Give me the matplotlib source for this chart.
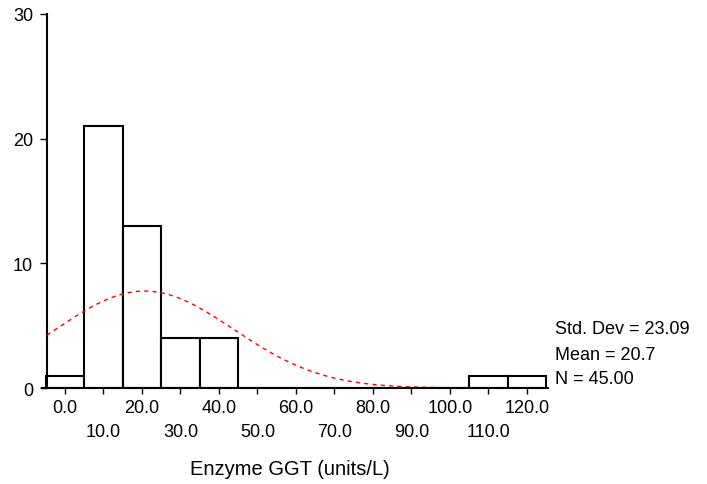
import numpy as np
import matplotlib
matplotlib.use('Agg')
from matplotlib import pyplot as plt

# histogram data
bin_centers = [0, 10, 20, 30, 40, 50, 60, 70, 80, 90, 100, 110, 120]
counts = [1, 21, 13, 4, 4, 0, 0, 0, 0, 0, 0, 1, 1]
tick_labels = ['0.0', '10.0', '20.0', '30.0', '40.0', '50.0', '60.0',
               '70.0', '80.0', '90.0', '100.0', '110.0', '120.0']
std_dev = 23.09
mean = 20.7
n = 45
bin_width = 10

plt.rcParams['font.family'] = ['Liberation Sans', 'DejaVu Sans']

fig = plt.figure(figsize=(7.07, 4.85), dpi=100)
ax = fig.add_axes([42/707, 1-389/485, (548-42)/707, (389-15)/485])

ax.bar(bin_centers, counts, width=bin_width, color='white',
       edgecolor='black', linewidth=1.5, zorder=2)

# normal curve
xs = np.linspace(-4.7, 125.5, 400)
ys = n * bin_width / (std_dev * np.sqrt(2*np.pi)) * np.exp(-0.5*((xs-mean)/std_dev)**2)
ax.plot(xs, ys, color='red', linestyle=(0, (3, 3)), linewidth=1, zorder=3)

ax.set_xlim(-5.97, 125.5)
ax.set_ylim(0, 30)
ax.spines['top'].set_visible(False)
ax.spines['right'].set_visible(False)
ax.spines['left'].set_position(('data', -4.7))
ax.spines['left'].set_linewidth(1.5)
ax.spines['bottom'].set_linewidth(1.5)
ax.spines['bottom'].set_zorder(4)

ax.set_yticks([0, 10, 20, 30])
ax.set_yticklabels(['0', '10', '20', '30'], fontsize=13)
ax.tick_params(axis='y', direction='out', length=5, width=1, pad=5)

ax.set_xticks(bin_centers)
ax.set_xticklabels(tick_labels, fontsize=13)
ax.tick_params(axis='x', direction='out', length=4, width=1, pad=4)
for t in ax.xaxis.get_major_ticks()[1::2]:
    t.set_pad(21)

fig.text(290/707, 1-470/485, 'Enzyme GGT (units/L)', fontsize=14.5, ha='center', va='center')

fig.text(555/707, 1-330/485, 'Std. Dev = %.2f' % std_dev, fontsize=13, va='center')
fig.text(555/707, 1-356/485, 'Mean = %.1f' % mean, fontsize=13, va='center')
fig.text(555/707, 1-380/485, 'N = %.2f' % n, fontsize=13, va='center')

fig.savefig('out.png', dpi=100)
